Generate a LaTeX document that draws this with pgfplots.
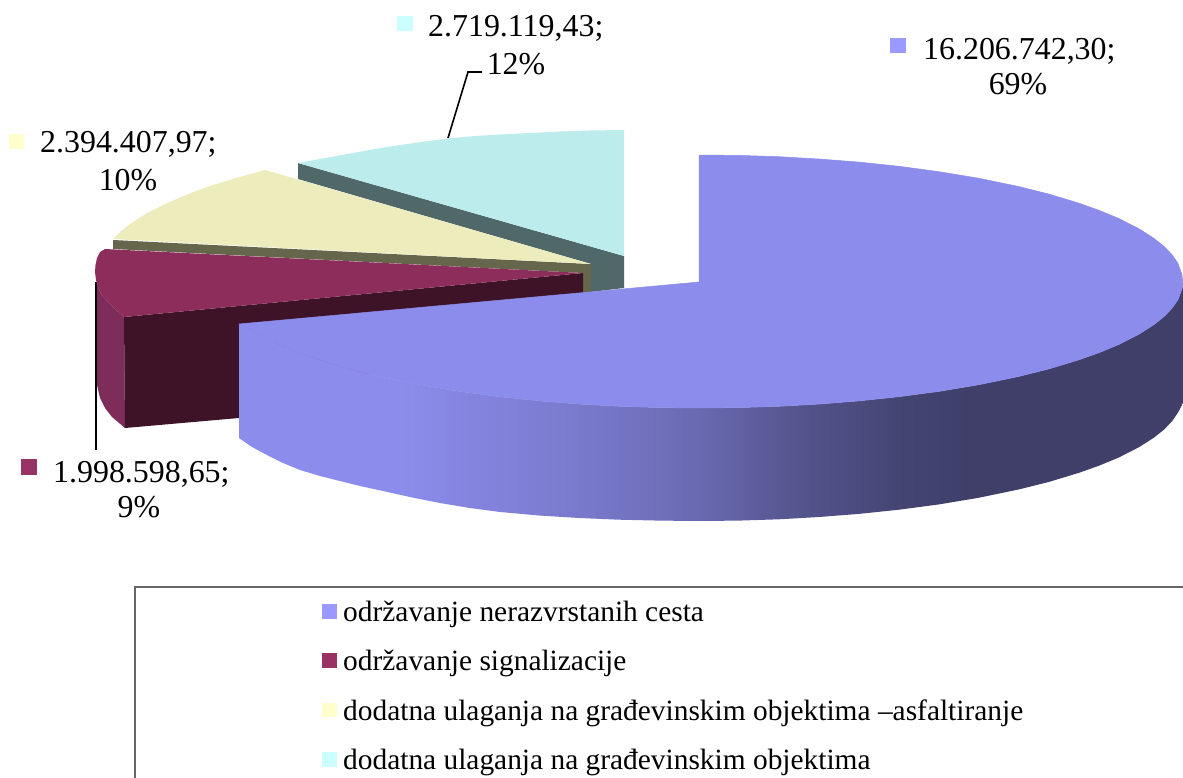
\documentclass[border=0pt]{standalone}
\usepackage{fontspec}
\setmainfont{Liberation Serif}
\usepackage{pgfplots}
\pgfplotsset{compat=1.18}
\definecolor{ptop}{HTML}{8C8CEC}
\definecolor{mtop}{HTML}{8C2D5C}
\definecolor{mside}{HTML}{7E2C5A}
\definecolor{mdark}{HTML}{3E1328}
\definecolor{ytop}{HTML}{ECECBC}
\definecolor{yside}{HTML}{66664C}
\definecolor{ttop}{HTML}{BCECEC}
\definecolor{tside}{HTML}{506868}
\definecolor{lp}{HTML}{9999FF}
\definecolor{lm}{HTML}{993366}
\definecolor{ly}{HTML}{FFFFCC}
\definecolor{lt}{HTML}{CCFFFF}
\pgfdeclarehorizontalshading{pside}{100bp}{
 color(0bp)=(ptop); color(25bp)=(ptop); color(33.5bp)=(ptop);
 color(36.2bp)=(ptop!96!black); color(44.1bp)=(ptop!85!black);
 color(49.4bp)=(ptop!75!black); color(54.7bp)=(ptop!60!black);
 color(60bp)=(ptop!49!black); color(63.7bp)=(ptop!45!black);
 color(100bp)=(ptop!45!black)}
\newcommand{\lab}[1]{\fontsize{31.9}{34}\selectfont #1}
\newcommand{\leg}[1]{\fontsize{29.4}{32}\selectfont #1}
\begin{document}
\begin{tikzpicture}[x=1pt,y=1pt]
\path[use as bounding box] (0,0) rectangle (1183,778);
\begin{axis}[at={(0,0)},anchor=south west,scale only axis,width=1183pt,height=778pt,
 xmin=0,xmax=1183,ymin=0,ymax=778,y dir=reverse,hide axis,
 every axis plot/.append style={forget plot,mark=none,draw=none}]
% leader line behind maroon
\addplot[draw=black,line width=1.6pt] coordinates {(96,282) (96,450)};
% teal slice
\addplot[fill=tside] coordinates {(298,163) (624,256) (624,288) (591,292) (591,264) (298,179)} -- cycle;
\addplot[fill=ttop] coordinates {(298,163) (320,159) (350,153.5) (375,149) (400,145) (425,141.5) (448,138.5) (475,136) (500,134.5) (530,133) (560,131.5) (590,130.5) (624,130) (624,256)} -- cycle;
% yellow slice
\addplot[fill=yside] coordinates {(113,240) (591,264) (591,293) (583,294) (583,273) (113,249)} -- cycle;
\addplot[fill=ytop] coordinates {(113,239) (120,232) (130,224) (147,213) (163,205) (180,197.5) (196,191) (213,185) (238,177.5) (265,170) (591,264)} -- cycle;
% maroon slice
\addplot[fill=mside] coordinates {(97,280) (98,287) (101,294) (108,302) (116,310) (124,317) (125,428) (112,417) (105,408) (100,398) (97,385)} -- cycle;
\addplot[fill=mdark] coordinates {(124,317) (583,273) (583,300) (239,418) (125,428)} -- cycle;
\addplot[fill=mtop] coordinates {(105,249) (583,273) (124,317) (116,310) (108,302) (101,294) (98,287) (96,280) (95,272) (95.5,265) (97,258) (100,252)} -- cycle;
% purple slice side
\addplot[shading=pside] coordinates {(1183,286) (1178,299.6) (1172,308.3) (1164,316.6) (1154,324.6) (1139,334.2) (1119,344.4) (1099,352.7) (1079,359.8) (1049,368.9) (1019,376.4) (979,384.7) (939,391.4) (899,396.7) (859,400.9) (819,404.1) (779,406.3) (739,407.6) (699,408) (659,407.6) (619,406.3) (579,404.1) (539,400.9) (499,396.7) (459,391.4) (419,384.7) (379,376.4) (349,368.9) (319,359.8) (299,352.7) (279,344.4) (259,334.2) (244,326) (239,324) (239,438) (252,447) (267,455) (283,463) (300,470) (320,476) (340,481) (360,486) (383,491) (410,497) (440,503) (470,508) (500,512) (539,515.5) (579,518) (619,519.7) (659,520.6) (699,521) (739,520.6) (779,519.3) (819,517) (859,513.9) (899,509.7) (939,504.4) (979,497.7) (1019,489.4) (1049,481.9) (1079,472.8) (1099,465.7) (1119,457.4) (1139,447.2) (1154,437.6) (1164,429.6) (1172,421.3) (1178,412.6) (1183,403)} -- cycle;
% purple top
\addplot[fill=ptop,draw=ptop,line width=0.5pt] coordinates {(699,155) (739,155.4) (779,156.7) (819,159) (859,162.1) (899,166.3) (939,171.7) (979,178.3) (1019,186.6) (1049,194.1) (1079,203.2) (1099,210.3) (1119,218.6) (1139,228.8) (1154,238.4) (1164,246.4) (1172,254.7) (1178,263.4) (1182,275) (1183,286) (1178,299.6) (1172,308.3) (1164,316.6) (1154,324.6) (1139,334.2) (1119,344.4) (1099,352.7) (1079,359.8) (1049,368.9) (1019,376.4) (979,384.7) (939,391.4) (899,396.7) (859,400.9) (819,404.1) (779,406.3) (739,407.6) (699,408) (659,407.6) (619,406.3) (579,404.1) (539,400.9) (499,396.7) (459,391.4) (419,384.7) (379,376.4) (349,368.9) (319,359.8) (299,352.7) (279,344.4) (259,334.2) (244,326) (239,324) (699,282)} -- cycle;
% teal leader
\addplot[draw=black,line width=1.6pt] coordinates {(448,138) (468,72) (482,72)};
% label keys
\addplot[fill=lp] coordinates {(890,38) (906,38) (906,53) (890,53)} -- cycle;
\addplot[fill=ly] coordinates {(9,134) (24,134) (24,149) (9,149)} -- cycle;
\addplot[fill=lt] coordinates {(397,16) (413,16) (413,31) (397,31)} -- cycle;
\addplot[fill=lm] coordinates {(21,459) (37,459) (37,475) (21,475)} -- cycle;
% legend frame
\addplot[draw=black!60,line width=1.2pt] coordinates {(135,778) (135,587) (1183,587)};
% legend keys
\addplot[fill=lp] coordinates {(322,604) (337,604) (337,619) (322,619)} -- cycle;
\addplot[fill=lm] coordinates {(322,653) (337,653) (337,668) (322,668)} -- cycle;
\addplot[fill=ly] coordinates {(322,703) (337,703) (337,717) (322,717)} -- cycle;
\addplot[fill=lt] coordinates {(322,752) (337,752) (337,767) (322,767)} -- cycle;
% labels
\node[anchor=base west,inner sep=0pt] at (axis cs:923,60) {\lab{16.206.742,30;}};
\node[anchor=base,inner sep=0pt] at (axis cs:1018,95) {\lab{69\%}};
\node[anchor=base west,inner sep=0pt] at (axis cs:428,37) {\lab{2.719.119,43;}};
\node[anchor=base,inner sep=0pt] at (axis cs:516,75) {\lab{12\%}};
\node[anchor=base west,inner sep=0pt] at (axis cs:40,153) {\lab{2.394.407,97;}};
\node[anchor=base,inner sep=0pt] at (axis cs:128,191) {\lab{10\%}};
\node[anchor=base west,inner sep=0pt] at (axis cs:53,482) {\lab{1.998.598,65;}};
\node[anchor=base,inner sep=0pt] at (axis cs:139,517) {\lab{9\%}};
% legend texts
\node[anchor=base west,inner sep=0pt] at (axis cs:343,621) {\leg{održavanje nerazvrstanih cesta}};
\node[anchor=base west,inner sep=0pt] at (axis cs:343,670) {\leg{održavanje signalizacije}};
\node[anchor=base west,inner sep=0pt] at (axis cs:343,720) {\leg{dodatna ulaganja na građevinskim objektima –asfaltiranje}};
\node[anchor=base west,inner sep=0pt] at (axis cs:343,769) {\leg{dodatna ulaganja na građevinskim objektima}};
\end{axis}
\end{tikzpicture}
\end{document}
